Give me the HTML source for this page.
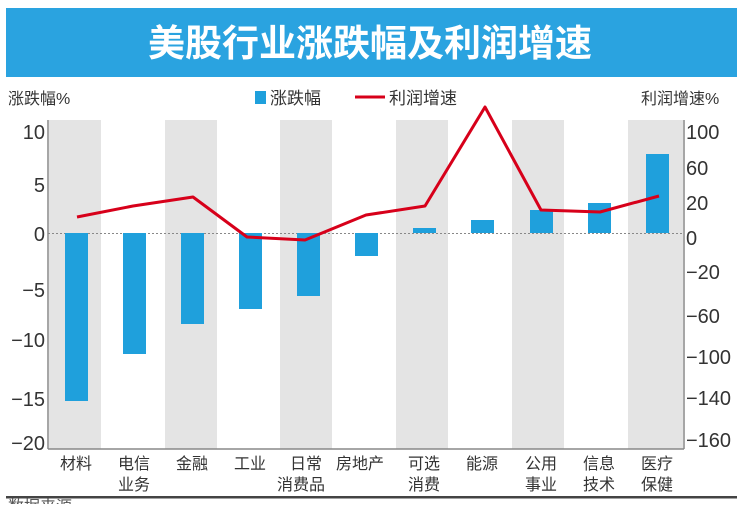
<!DOCTYPE html>
<html><head><meta charset="utf-8"><style>
body{margin:0;background:#fff;width:737px;height:504px;overflow:hidden}
svg text{font-family:"Liberation Sans","Noto Sans CJK SC",sans-serif}
</style></head><body>
<svg width="737" height="504" viewBox="0 0 737 504" xmlns="http://www.w3.org/2000/svg">
<rect x="6" y="8" width="731" height="69" fill="#2aa3e0"/>
<text x="370" y="56" text-anchor="middle" font-size="37" font-weight="bold" fill="#fff" style='font-family:"Noto Sans CJK SC",sans-serif'>美股行业涨跌幅及利润增速</text>
<text x="8" y="104" font-size="16" fill="#333">涨跌幅%</text>
<text x="641" y="104" font-size="16" fill="#333">利润增速%</text>
<rect x="255" y="91" width="11" height="13" fill="#1fa0dc"/>
<text x="270" y="104" font-size="17" fill="#333">涨跌幅</text>
<line x1="355" y1="97" x2="385" y2="97" stroke="#d7001a" stroke-width="3"/>
<text x="389" y="104" font-size="17" fill="#333">利润增速</text>
<g fill="#e4e4e4">
<rect x="49" y="120" width="52" height="329"/><rect x="165" y="120" width="52" height="329"/>
<rect x="280" y="120" width="52" height="329"/><rect x="396" y="120" width="52" height="329"/>
<rect x="512" y="120" width="52" height="329"/><rect x="628" y="120" width="55" height="329"/>
</g>
<line x1="48" y1="233.5" x2="684" y2="233.5" stroke="#888" stroke-width="1" stroke-dasharray="2,2"/>
<g fill="#1fa0dc">
<rect x="65" y="233" width="23" height="168"/>
<rect x="123" y="233" width="23" height="121"/>
<rect x="181" y="233" width="23" height="91"/>
<rect x="239" y="233" width="23" height="76"/>
<rect x="297" y="233" width="23" height="63"/>
<rect x="355" y="233" width="23" height="23"/>
<rect x="413" y="228" width="23" height="5"/>
<rect x="471" y="220" width="23" height="13"/>
<rect x="530" y="210" width="23" height="23"/>
<rect x="588" y="203" width="23" height="30"/>
<rect x="646" y="154" width="23" height="79"/>
</g>
<polyline fill="none" stroke="#d7001a" stroke-width="3" stroke-linejoin="round" points="77,217 133,206 193,197 247,237 305,240 366,215 425,206 485,107 541,210 600,212 659,196"/>
<line x1="48" y1="120" x2="48" y2="449" stroke="#888" stroke-width="1.5"/>
<line x1="48" y1="449" x2="684" y2="449" stroke="#888" stroke-width="1.5"/>
<line x1="684" y1="120" x2="684" y2="449" stroke="#888" stroke-width="1.5"/>
<g font-size="20" fill="#333" text-anchor="end">
<text x="45" y="139">10</text><text x="45" y="192">5</text><text x="45" y="241">0</text>
<text x="45" y="297">−5</text><text x="45" y="347">−10</text><text x="45" y="406">−15</text><text x="45" y="450">−20</text>
</g>
<g font-size="20" fill="#333">
<text x="686" y="139">100</text><text x="686" y="175">60</text><text x="686" y="210">20</text><text x="686" y="245">0</text>
<text x="686" y="279">−20</text><text x="686" y="323">−60</text><text x="686" y="364">−100</text><text x="686" y="405">−140</text><text x="686" y="447">−160</text>
</g>
<g font-size="16" fill="#333" text-anchor="middle">
<text x="76" y="469">材料</text>
<text x="134" y="469">电信</text><text x="134" y="490">业务</text>
<text x="192" y="469">金融</text>
<text x="250" y="469">工业</text>
<text x="306" y="469">日常</text><text x="301" y="490">消费品</text>
<text x="360" y="469">房地产</text>
<text x="424" y="469">可选</text><text x="424" y="490">消费</text>
<text x="482" y="469">能源</text>
<text x="541" y="469">公用</text><text x="541" y="490">事业</text>
<text x="599" y="469">信息</text><text x="599" y="490">技术</text>
<text x="657" y="469">医疗</text><text x="657" y="490">保健</text>
</g>
<rect x="6" y="496" width="731" height="2.5" fill="#444"/>
<text x="8" y="512" font-size="16" fill="#555">数据来源</text>
</svg>
</body></html>
